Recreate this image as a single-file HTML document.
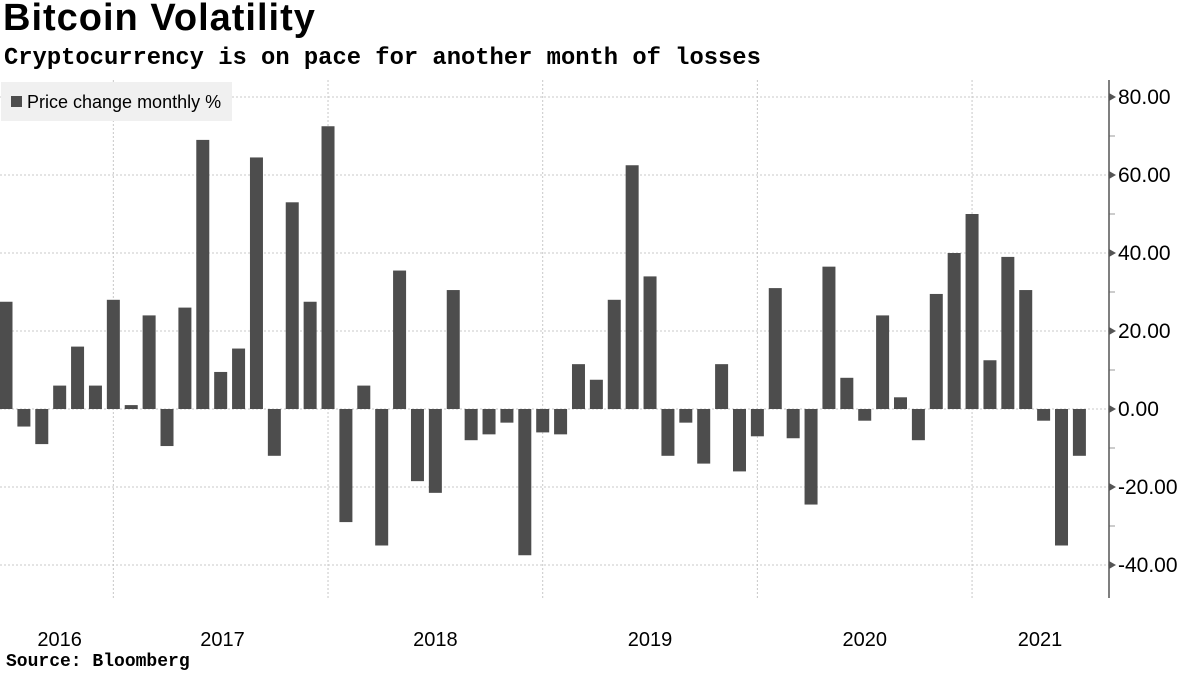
<!DOCTYPE html>
<html><head><meta charset="utf-8"><style>
body{margin:0;width:1200px;height:675px;background:#fff;overflow:hidden;font-family:"Liberation Sans",sans-serif;}
.t{position:absolute;left:3px;top:-3px;font:bold 38px "Liberation Sans",sans-serif;letter-spacing:1px;color:#000;}
.s{position:absolute;left:4px;top:45px;font:bold 23.8px "Liberation Mono",monospace;color:#000;}
.src{position:absolute;left:6px;top:652px;font:bold 18px "Liberation Mono",monospace;color:#000;}
</style></head><body>
<div class="t">Bitcoin Volatility</div>
<div class="s">Cryptocurrency is on pace for another month of losses</div>
<svg id="c" width="1200" height="675" style="position:absolute;left:0;top:0"></svg>
<div class="src">Source: Bloomberg</div>
<script>
const values=[27.5,-4.5,-9,6,16,6,28,1,24,-9.5,26,69,9.5,15.5,64.5,-12,53,27.5,72.5,-29,6,-35,35.5,-18.5,-21.5,30.5,-8,-6.5,-3.5,-37.5,-6,-6.5,11.5,7.5,28,62.5,34,-12,-3.5,-14,11.5,-16,-7,31,-7.5,-24.5,36.5,8,-3,24,3,-8,29.5,40,50,12.5,39,30.5,-3,-35,-12];
const yTicks=[80,60,40,20,0,-20,-40];
const yTickLabels=["80.00","60.00","40.00","20.00","0.00","-20.00","-40.00"];
const yearLabels=["2016","2017","2018","2019","2020","2021"];
const yearLabelIdx=[3,12.1,24,36,48,57.8];
const yearGridIdx=[6,18,30,42,54];
const NS="http://www.w3.org/2000/svg";
const svg=document.getElementById('c');
const y=v=>409-v*3.9;
const x=i=>6+i*17.89;
function el(t,a){const e=document.createElementNS(NS,t);for(const k in a)e.setAttribute(k,a[k]);svg.appendChild(e);return e;}
yTicks.forEach((v,i)=>{
 const g=el('line',{x1:0,x2:1109,y1:y(v),y2:y(v),stroke:'#c8c8c8','stroke-dasharray':'2,2'});
 
 
 const tk=el('path',{d:`M1109 ${y(v)-4}L1116 ${y(v)}L1109 ${y(v)+4}Z`,fill:'#555'});
 
 
 const t=el('text',{x:1118,y:y(v)+7,'font-size':21,fill:'#000','font-family':'Liberation Sans, sans-serif'});
 t.textContent=yTickLabels[i];
 
 
});
[70,50,30,10,-10,-30].forEach(v=>{
 const m=el('line',{x1:1109,x2:1115,y1:y(v),y2:y(v),stroke:'#999'});
 
 
});
yearGridIdx.forEach(i=>{
 const g=el('line',{x1:x(i),x2:x(i),y1:80,y2:598,stroke:'#c8c8c8','stroke-dasharray':'2,2'});
 
 
});
const ax=el('line',{x1:1109,x2:1109,y1:80,y2:598,stroke:'#555','stroke-width':1.5});


values.forEach((v,i)=>{
 const r=el('rect',{x:x(i)-6.5,width:13,y:Math.min(y(v),y(0)),height:Math.abs(y(v)-y(0)),fill:'#4d4d4d'});
 
 
});
yearLabels.forEach((l,i)=>{
 const t=el('text',{x:x(yearLabelIdx[i]),y:646,'font-size':20,'text-anchor':'middle',fill:'#000','font-family':'Liberation Sans, sans-serif'});
 t.textContent=l;
 
 
});
const lb=el('rect',{x:1,y:82,width:231,height:39,fill:'#f0f0f0'});


const ls=el('rect',{x:11,y:96,width:11,height:11,fill:'#4d4d4d'});


const lt=el('text',{x:27,y:108,'font-size':18,fill:'#000','font-family':'Liberation Sans, sans-serif'});
lt.textContent='Price change monthly %';


</script>
</body></html>
